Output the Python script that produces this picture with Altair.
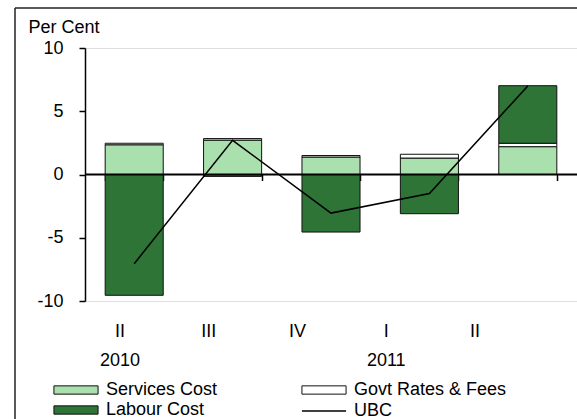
import altair as alt
import pandas as pd

# Quarterly contributions to unit business cost growth (per cent)
keys = ["2010 Q2", "2010 Q3", "2010 Q4", "2011 Q1", "2011 Q2"]
roman = ["II", "III", "IV", "I", "II"]
years = ["2010", "", "", "2011", ""]
services = [2.35, 2.72, 1.38, 1.3, 2.2]
govt = [0.12, 0.12, 0.12, 0.3, 0.27]
labour = [-9.55, -0.15, -4.55, -3.1, 4.55]
ubc = [-7.05, 2.7, -3.05, -1.5, 7.0]

series_names = ["Services Cost", "Govt Rates & Fees", "Labour Cost"]
# legend lists entries column by column
legend_order = ["Services Cost", "Labour Cost", "Govt Rates & Fees"]
legend_colors = ["#aadfae", "#2d7436", "#ffffff"]

FONT = "Liberation Sans"
W, H = 492, 253

rows = []
for i, k in enumerate(keys):
    for j, (name, vals) in enumerate(zip(series_names, [services, govt, labour])):
        rows.append({"key": k, "series": name, "value": vals[i], "ord": j})
bars_df = pd.DataFrame(rows)
line_df = pd.DataFrame({"key": keys, "value": ubc, "name": "UBC"})
label_df = pd.DataFrame({"key": keys, "roman": roman, "year": years})

x_scale = alt.Scale(domain=keys, paddingInner=0.41, paddingOuter=0.205)
y_scale = alt.Scale(domain=[-10, 10], nice=False)
y_axis = alt.Axis(
    values=[-10, -5, 0, 5, 10], grid=False, labelExpr="'' + datum.value",
    domainColor="black", domainWidth=1.5,
    tickColor="black", tickWidth=1.5, tickSize=6,
    labelFont=FONT, labelFontSize=18, labelColor="black", labelPadding=16,
    title="Per Cent", titleAngle=0, titleAlign="left", titleBaseline="middle",
    titleX=-57, titleY=-21, titleFont=FONT, titleFontSize=18,
    titleFontWeight="normal", titleColor="black",
)
x_axis = alt.Axis(
    labels=False, domain=False, ticks=True, tickBand="extent",
    tickSize=6, tickColor="black", tickWidth=1.5, offset=-H / 2, title=None,
)

box_path = "M-4.8,-0.9H4.8V0.9H-4.8Z"
line_path = "M-4.8,0H4.8"

bars = alt.Chart(bars_df).mark_bar(stroke="#111111", strokeWidth=1).encode(
    x=alt.X("key:N", scale=x_scale, axis=x_axis, sort=keys),
    y=alt.Y("value:Q", stack="zero", scale=y_scale, axis=y_axis),
    fill=alt.Fill(
        "series:N",
        scale=alt.Scale(domain=legend_order, range=legend_colors),
        legend=alt.Legend(
            orient="none", legendX=-18, legendY=333, columns=2,
            columnPadding=81, rowPadding=2, padding=0, title=None,
            symbolType=box_path, symbolSize=84.6,
            symbolStrokeColor="#111111", symbolStrokeWidth=1,
            labelFont=FONT, labelFontSize=18, labelColor="black",
            labelOffset=21, labelLimit=0,
        ),
    ),
    order=alt.Order("ord:Q"),
)

zero = alt.Chart(alt.Data(values=[{}])).mark_rule(color="black", strokeWidth=2).encode(
    y=alt.datum(0), x=alt.value(0), x2=alt.value(W)
)

line = alt.Chart(line_df).mark_line(strokeWidth=1.5).encode(
    x=alt.X("key:N", scale=x_scale, sort=keys),
    y=alt.Y("value:Q", scale=y_scale, axis=y_axis),
    stroke=alt.Stroke(
        "name:N",
        scale=alt.Scale(domain=["UBC"], range=["black"]),
        legend=alt.Legend(
            orient="none", legendX=230, legendY=354, padding=0, title=None,
            symbolType=line_path, symbolSize=84.6, symbolStrokeWidth=1.5,
            labelFont=FONT, labelFontSize=18, labelColor="black",
            labelOffset=21,
        ),
    ),
)

# outer frame of the figure
frame_left = alt.Chart(alt.Data(values=[{}])).mark_rule(color="#222", strokeWidth=1.5).encode(
    x=alt.value(-70), y=alt.value(-40), y2=alt.value(H + 130)
)
frame_top = alt.Chart(alt.Data(values=[{}])).mark_rule(color="#222", strokeWidth=1.5).encode(
    x=alt.value(-70), x2=alt.value(W + 10), y=alt.value(-40)
)

label_x = alt.X("key:N", scale=alt.Scale(type="point", domain=keys, range=[35, 390], padding=0), axis=None)
quarter_text = alt.Chart(label_df).mark_text(
    font=FONT, fontSize=18, color="black", baseline="middle", align="center"
).encode(x=label_x, y=alt.value(283.5), text="roman:N")
year_text = alt.Chart(label_df).mark_text(
    font=FONT, fontSize=18, color="black", baseline="middle", align="center"
).encode(x=label_x, y=alt.value(312.5), text="year:N")

plot = alt.layer(frame_left, frame_top, bars, zero, line)
labels = alt.layer(quarter_text, year_text)

chart = alt.layer(plot, labels).resolve_scale(x="independent").properties(
    width=W, height=H,
    autosize=alt.AutoSizeParams(type="none"),
    padding={"left": 85, "top": 48, "right": 0, "bottom": 118},
).configure_view(stroke=None).configure(background="white")

chart.save("out.html", embed_options={"renderer": "svg", "actions": False})
